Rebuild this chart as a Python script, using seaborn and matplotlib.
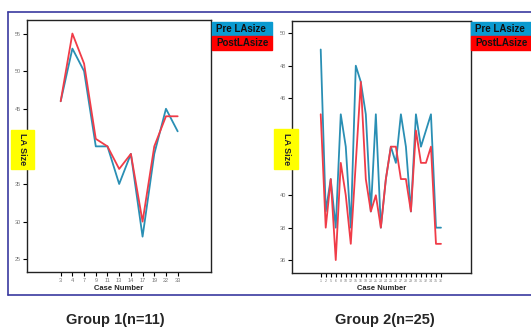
import numpy as np
import pandas as pd
import seaborn as sns
import matplotlib.pyplot as plt
from matplotlib.patches import Rectangle

# Group 1 data
g1_cases = ["3", "4", "7", "9", "11", "13", "14", "17", "19", "22", "33"]
g1_pre = [46, 53, 50, 40, 40, 35, 39, 28, 39, 45, 42]
g1_post = [46, 55, 51, 41, 40, 37, 39, 30, 40, 44, 44]
g1_yticks = [25, 30, 35, 40, 45, 50, 55]
g1_hidden = [40]  # covered by the yellow label

# Group 2 data
g2_cases = ["1", "2", "5", "6", "8", "10", "12", "15", "16", "18", "20", "21", "23",
            "24", "25", "26", "27", "28", "29", "30", "31", "32", "34", "35", "36"]
g2_pre = [49, 39, 41, 38, 45, 43, 38, 48, 47, 45, 39, 45, 38,
          41, 43, 42, 45, 43, 39, 45, 43, 44, 45, 38, 38]
g2_post = [45, 38, 41, 36, 42, 40, 37, 42, 47, 41, 39, 40, 38,
           41, 43, 43, 41, 41, 39, 44, 42, 42, 43, 37, 37]
g2_yticks = [36, 38, 40, 42, 44, 46, 48, 50]
g2_hidden = [42, 44]

series_names = ["Pre LAsize", "PostLAsize"]
line_colors = {"Pre LAsize": "#2a8fb4", "PostLAsize": "#f03c48"}
box_colors = ["#0a9ad0", "#ff0000"]

sns.set_style("white")
plt.rcParams['font.family'] = ['Liberation Sans', 'DejaVu Sans']

fig = plt.figure(figsize=(5.31, 3.27), dpi=100)
W, H = 531, 327


def to_df(cases, pre, post):
    n = len(cases)
    return pd.DataFrame({
        "pos": list(range(n)) * 2,
        "value": pre + post,
        "series": [series_names[0]] * n + [series_names[1]] * n,
    })


def panel(box, cases, pre, post, ylim, yticks, hidden, xlim, tick_fs, label_box, legend_x):
    x0, y0, x1, y1 = box
    ax = fig.add_axes([x0 / W, 1 - y1 / H, (x1 - x0) / W, (y1 - y0) / H])
    df = to_df(cases, pre, post)
    sns.lineplot(data=df, x="pos", y="value", hue="series", palette=line_colors,
                 linewidth=1.3, legend=False, ax=ax)
    ax.set_xlim(*xlim)
    ax.set_ylim(*ylim)
    ax.set_xticks(range(len(cases)))
    ax.set_xticklabels(cases, fontsize=tick_fs, color="#777777")
    ax.set_yticks(yticks)
    ax.set_yticklabels(["" if v in hidden else str(v) for v in yticks], fontsize=4, color="#777777")
    ax.tick_params(axis="both", direction="out", length=3, width=0.8, color="black", pad=1.5,
                   bottom=True, left=True)
    for s in ax.spines.values():
        s.set_color("#222222")
        s.set_linewidth(1.0)
    ax.set_ylabel("")
    ax.set_xlabel("Case Number", fontsize=5.5, fontweight="bold", labelpad=1)
    # yellow y-label box
    lx0, ly0, lx1, ly1 = label_box
    fig.patches.append(Rectangle((lx0 / W, 1 - ly1 / H), (lx1 - lx0) / W, (ly1 - ly0) / H,
                                 transform=fig.transFigure, color="#ffff00", zorder=5))
    fig.text((lx0 + lx1) / 2 / W, 1 - (ly0 + ly1) / 2 / H, "LA Size", rotation=-90,
             ha="center", va="center", fontsize=6.5, fontweight="bold", zorder=6)
    # legend boxes
    for i, (name, c) in enumerate(zip(series_names, box_colors)):
        ty0 = 22 + i * 14
        fig.patches.append(Rectangle((legend_x / W, 1 - (ty0 + 14) / H), 60 / W, 14 / H,
                                     transform=fig.transFigure, color=c, zorder=5))
        fig.text((legend_x + 4) / W, 1 - (ty0 + 7) / H, name, ha="left", va="center",
                 fontsize=7, fontweight="bold", color="#111111", zorder=6)
    return ax


panel((27, 20, 211, 272), g1_cases, g1_pre, g1_post, (23.3, 56.8), g1_yticks, g1_hidden,
      (-2.88, 12.85), 4, (11, 130, 34, 169), 212)
panel((292, 21, 471, 273), g2_cases, g2_pre, g2_post, (35.2, 50.76), g2_yticks, g2_hidden,
      (-5.73, 29.99), 2.6, (274, 129, 298, 169), 471)

# outer frame lines
frame_color = "#3a3aa0"
fig.add_artist(plt.Line2D([8 / W, 1], [1 - 12 / H, 1 - 12 / H], color=frame_color, lw=1.2))
fig.add_artist(plt.Line2D([8 / W, 1], [1 - 295 / H, 1 - 295 / H], color=frame_color, lw=1.2))
fig.add_artist(plt.Line2D([8 / W, 8 / W], [1 - 12 / H, 1 - 295 / H], color=frame_color, lw=1.2))

fig.text(115 / W, 1 - 320 / H, "Group 1(n=11)", ha="center", va="center",
         fontsize=10.5, fontweight="bold")
fig.text(385 / W, 1 - 320 / H, "Group 2(n=25)", ha="center", va="center",
         fontsize=10.5, fontweight="bold")

fig.savefig("out.png", dpi=100)
